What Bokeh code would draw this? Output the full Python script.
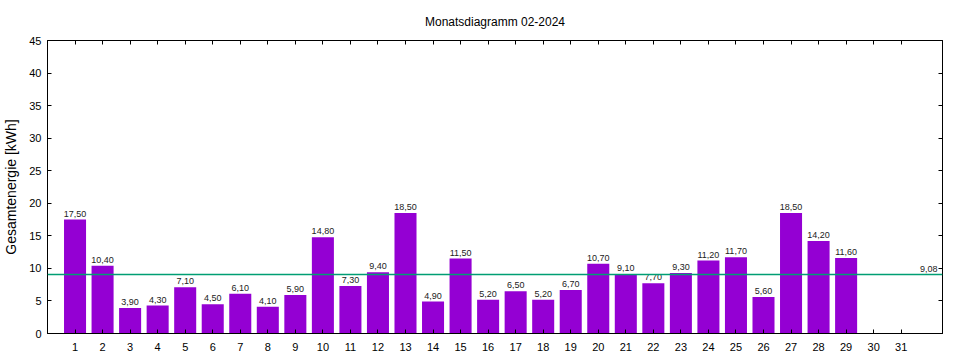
from bokeh.plotting import figure
from bokeh.models import (ColumnDataSource, Range1d, FixedTicker, LinearAxis,
                          Span, Label)
from bokeh.embed import file_html
from bokeh.resources import INLINE

# ---- data ----
days = list(range(1, 30))
energy = [17.5, 10.4, 3.9, 4.3, 7.1, 4.5, 6.1, 4.1, 5.9, 14.8,
          7.3, 9.4, 18.5, 4.9, 11.5, 5.2, 6.5, 5.2, 6.7, 10.7,
          9.1, 7.7, 9.3, 11.2, 11.7, 5.6, 18.5, 14.2, 11.6]
x_ticks = list(range(1, 32))
y_ticks = list(range(0, 50, 5))
average = 9.08
title_text = "Monatsdiagramm 02-2024"
y_label = "Gesamtenergie [kWh]"

labels = [f"{v:.2f}".replace(".", ",") for v in energy]
src = ColumnDataSource(dict(day=days, energy=energy, label=labels))

FONT = "Liberation Sans"

p = figure(width=952, height=358, output_backend="svg", toolbar_location=None,
           x_range=Range1d(0, 32.5), y_range=Range1d(0, 45),
           min_border_left=46, min_border_right=10, min_border_top=40,
           min_border_bottom=25, title=title_text)

p.title.text_font = FONT
p.title.text_font_size = "12px"
p.title.text_font_style = "normal"
p.title.align = "center"
p.title.text_color = "#000000"
p.title.standoff = 23

p.xgrid.visible = False
p.ygrid.visible = False
p.outline_line_color = "black"
p.outline_line_width = 1
p.background_fill_color = "white"
p.border_fill_color = "white"

# bottom axis
xa = p.xaxis[0]
xa.ticker = FixedTicker(ticks=x_ticks)
xa.major_tick_in = 4
xa.major_tick_out = 0
xa.minor_tick_line_color = None
xa.major_label_standoff = 9
xa.major_label_text_font = FONT
xa.major_label_text_font_size = "11px"
xa.major_label_text_color = "black"
xa.axis_line_color = "black"

# left axis
ya = p.yaxis[0]
ya.ticker = FixedTicker(ticks=y_ticks)
ya.major_tick_in = 4
ya.major_tick_out = 0
ya.minor_tick_line_color = None
ya.major_label_standoff = 6
ya.major_label_text_font = FONT
ya.major_label_text_font_size = "11px"
ya.major_label_text_color = "black"
ya.axis_label = y_label
ya.axis_label_text_font = FONT
ya.axis_label_text_font_size = "14px"
ya.axis_label_text_font_style = "normal"
ya.axis_label_standoff = 7
ya.axis_label_text_color = "black"

# mirrored axes (ticks only, empty labels)
top = LinearAxis(ticker=FixedTicker(ticks=x_ticks), major_tick_in=4, major_tick_out=0,
                 minor_tick_line_color=None, major_label_standoff=0,
                 major_label_overrides={t: "" for t in x_ticks})
right = LinearAxis(ticker=FixedTicker(ticks=y_ticks), major_tick_in=4, major_tick_out=0,
                   minor_tick_line_color=None, major_label_standoff=0,
                   major_label_overrides={t: "" for t in y_ticks})
p.add_layout(top, "above")
p.add_layout(right, "right")

p.vbar(x="day", top="energy", width=0.8, source=src,
       fill_color="#9400D3", line_color=None)

p.text(x="day", y="energy", text="label", source=src, y_offset=-3,
       text_align="center", text_baseline="bottom", text_font_size="9px",
       text_color="#222222", text_font={"value": FONT})

avg_line = Span(location=average, dimension="width", line_color="#009E73",
                line_width=1.5)
p.add_layout(avg_line)
p.add_layout(Label(x=32.5, y=average, text=f"{average:.2f}".replace(".", ","),
                   x_offset=-5, y_offset=2, text_align="right",
                   text_baseline="bottom", text_font_size="9px",
                   text_color="#222222", text_font=FONT))

open("out.html", "w").write(file_html(p, INLINE))
